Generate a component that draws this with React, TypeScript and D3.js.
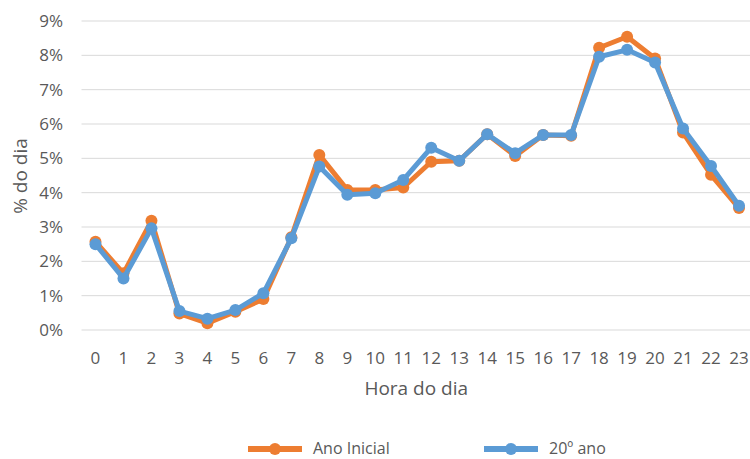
import React from "react";
import * as d3 from "d3";

const hours = ["0","1","2","3","4","5","6","7","8","9","10","11","12","13","14","15","16","17","18","19","20","21","22","23"];
const anoInicial = [2.57,1.65,3.18,0.48,0.2,0.53,0.9,2.7,5.1,4.08,4.08,4.15,4.9,4.93,5.7,5.07,5.68,5.66,8.22,8.54,7.91,5.75,4.52,3.55];
const ano20 = [2.5,1.5,2.96,0.55,0.33,0.58,1.07,2.67,4.76,3.94,3.98,4.37,5.31,4.93,5.7,5.15,5.68,5.68,7.96,8.16,7.79,5.87,4.78,3.62];
const yTicks = [0,1,2,3,4,5,6,7,8,9];
const seriesNames = ["Ano Inicial", "20º ano"];
const colors = ["#ED7D31", "#5B9BD5"];

const W = 750, H = 459;
const FONT = "'Open Sans', sans-serif";
const TXT = "#595959";

export default function App() {
  const x = d3.scaleBand<string>().domain(hours).range([81.5, 753]);
  const y = d3.scaleLinear().domain([0, 9]).range([330, 21]);
  const cx = (h: string) => (x(h) as number) + x.bandwidth() / 2;
  const line = d3.line<number>().x((_, i) => cx(hours[i])).y((v) => y(v));
  const series = [anoInicial, ano20];
  const legendX = [248, 484];
  return (
    <svg width={W} height={H} style={{ position: "absolute", left: 0, top: 0, background: "#fff" }} fontFamily={FONT}>
      {yTicks.map((t) => (
        <g key={t}>
          <line x1={81.5} x2={W} y1={y(t)} y2={y(t)} stroke="#d9d9d9" strokeWidth={1} />
          <text x={63} y={y(t)} dy="0.36em" textAnchor="end" fontSize={17} fill={TXT}>{t}%</text>
        </g>
      ))}
      {hours.map((h) => (
        <text key={h} x={cx(h)} y={364} textAnchor="middle" fontSize={17} fill={TXT}>{h}</text>
      ))}
      <text x={(81.5 + 753) / 2 - 1} y={395} textAnchor="middle" fontSize={19} fill={TXT}>Hora do dia</text>
      <text transform="translate(27,176) rotate(-90)" textAnchor="middle" fontSize={19} fill={TXT}>% do dia</text>
      {series.map((s, si) => (
        <g key={si}>
          <path d={line(s) || ""} fill="none" stroke={colors[si]} strokeWidth={5} strokeLinejoin="round" />
          {s.map((v, i) => (
            <circle key={i} cx={cx(hours[i])} cy={y(v)} r={6} fill={colors[si]} />
          ))}
        </g>
      ))}
      {seriesNames.map((n, i) => (
        <g key={n}>
          <line x1={legendX[i]} x2={legendX[i] + 54} y1={449} y2={449} stroke={colors[i]} strokeWidth={6} />
          <circle cx={legendX[i] + 27} cy={449} r={6} fill={colors[i]} />
          <text x={legendX[i] + 65} y={454} fontSize={16} fill={TXT}>{n}</text>
        </g>
      ))}
    </svg>
  );
}
